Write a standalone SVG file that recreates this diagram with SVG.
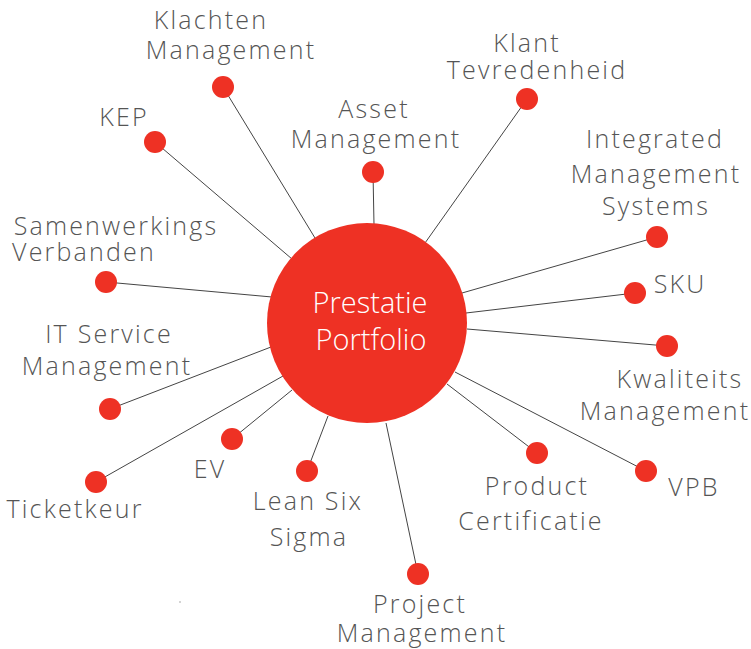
<svg xmlns="http://www.w3.org/2000/svg" width="751" height="649" viewBox="0 0 751 649">
<style>
.l{stroke:#444;stroke-width:1;fill:none}
.d{fill:#EE3124}
.t{font-family:"Open Sans","Liberation Sans",sans-serif;font-weight:300;font-size:25px;fill:#555;letter-spacing:2.2px;text-anchor:middle}
.c{font-family:"Open Sans","Liberation Sans",sans-serif;font-weight:300;font-size:29px;fill:#fff;letter-spacing:0px;text-anchor:middle}
</style>
<rect width="751" height="649" fill="#fff"/>
<g id="connectors">
<line class="l" x1="223" y1="87" x2="315" y2="238"/>
<line class="l" x1="155" y1="142" x2="292" y2="259"/>
<line class="l" x1="373" y1="172" x2="374" y2="225"/>
<line class="l" x1="527" y1="99" x2="425" y2="243"/>
<line class="l" x1="657" y1="237" x2="462" y2="293"/>
<line class="l" x1="635" y1="293" x2="466" y2="313"/>
<line class="l" x1="667" y1="346" x2="467" y2="329"/>
<line class="l" x1="646" y1="471" x2="455" y2="372"/>
<line class="l" x1="537" y1="453" x2="447" y2="384"/>
<line class="l" x1="418" y1="574" x2="386" y2="423"/>
<line class="l" x1="307" y1="471" x2="328" y2="416"/>
<line class="l" x1="232" y1="439" x2="292" y2="390"/>
<line class="l" x1="96" y1="482" x2="283" y2="376"/>
<line class="l" x1="110" y1="409" x2="271" y2="347"/>
<line class="l" x1="106" y1="282" x2="272" y2="297"/>
</g>
<g id="center"><circle class="d" cx="367" cy="323" r="100"/><text class="c" x="370" y="313">Prestatie</text><text class="c" x="371" y="350">Portfolio</text></g>
<g id="klachten"><circle class="d" cx="223" cy="87" r="11"/><text class="t" x="211" y="29">Klachten</text><text class="t" x="231" y="59">Management</text></g>
<g id="kep"><circle class="d" cx="155" cy="142" r="11"/><text class="t" x="124" y="126">KEP</text></g>
<g id="asset"><circle class="d" cx="373" cy="172" r="11"/><text class="t" x="374" y="118">Asset</text><text class="t" x="376" y="148">Management</text></g>
<g id="klant"><circle class="d" cx="527" cy="99" r="11"/><text class="t" x="527" y="52">Klant</text><text class="t" x="537" y="79">Tevredenheid</text></g>
<g id="integrated"><circle class="d" cx="657" cy="237" r="11"/><text class="t" x="655" y="148">Integrated</text><text class="t" x="656" y="183">Management</text><text class="t" x="656" y="215">Systems</text></g>
<g id="sku"><circle class="d" cx="635" cy="293" r="11"/><text class="t" x="680" y="293">SKU</text></g>
<g id="kwaliteits"><circle class="d" cx="667" cy="346" r="11"/><text class="t" x="680" y="388">Kwaliteits</text><text class="t" x="665" y="420">Management</text></g>
<g id="vpb"><circle class="d" cx="646" cy="471" r="11"/><text class="t" x="694" y="496">VPB</text></g>
<g id="product"><circle class="d" cx="537" cy="453" r="11"/><text class="t" x="537" y="495">Product</text><text class="t" x="531" y="530">Certificatie</text></g>
<g id="project"><circle class="d" cx="418" cy="574" r="11"/><text class="t" x="420" y="613">Project</text><text class="t" x="422" y="642">Management</text></g>
<g id="lean"><circle class="d" cx="307" cy="471" r="11"/><text class="t" x="308" y="510">Lean Six</text><text class="t" x="309" y="546">Sigma</text></g>
<g id="ev"><circle class="d" cx="232" cy="439" r="11"/><text class="t" x="210" y="478">EV</text></g>
<g id="ticketkeur"><circle class="d" cx="96" cy="482" r="11"/><text class="t" x="75" y="518">Ticketkeur</text></g>
<g id="itservice"><circle class="d" cx="110" cy="409" r="11"/><text class="t" x="109" y="343">IT Service</text><text class="t" x="107" y="375">Management</text></g>
<g id="samenwerkings"><circle class="d" cx="106" cy="282" r="11"/><text class="t" x="116" y="235">Samenwerkings</text><text class="t" x="84" y="261">Verbanden</text></g>
<circle cx="180" cy="602" r="0.7" fill="#888"/>
</svg>
